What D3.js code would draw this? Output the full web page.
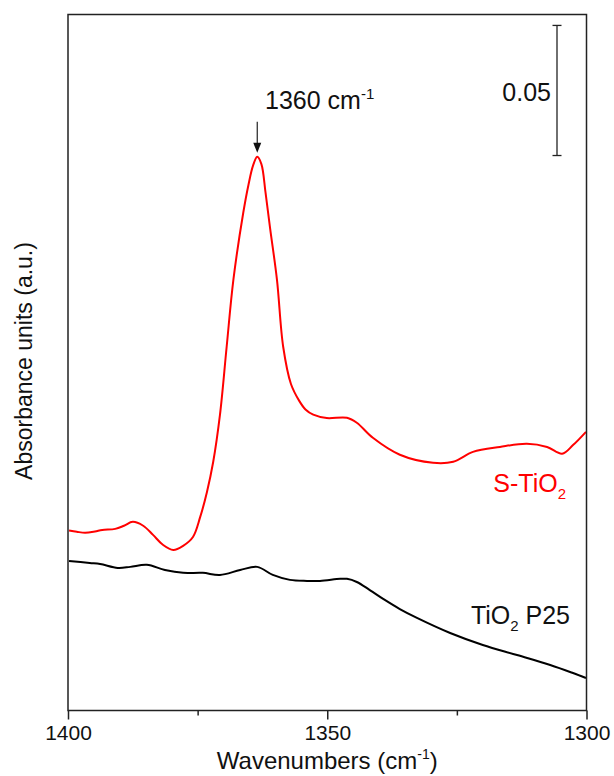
<!DOCTYPE html>
<html>
<head>
<meta charset="utf-8">
<title>IR absorbance</title>
<style>
  body { margin: 0; background: #fff; }
  text { font-family: Arial, 'Liberation Sans', Helvetica, sans-serif; fill: #111; }
  .frame { fill: none; stroke: #222; stroke-width: 1.5px; }
  .spectrum { fill: none; stroke-width: 2px; stroke-linejoin: round; }
</style>
</head>
<body>
<script src="https://cdn.jsdelivr.net/npm/d3@7/dist/d3.min.js"></script>
<script>
// wavenumber (cm-1) and absorbance
var sWn = [1399.8, 1398.3, 1396.7, 1394.8, 1393.4, 1390.9, 1389.2, 1387.5, 1385.5, 1383.6,
           1381.7, 1379.7, 1377.8, 1375.9, 1374.5, 1373.2, 1372.0, 1370.7, 1369.4, 1368.1,
           1366.2, 1365.2, 1364.3, 1363.5, 1362.7, 1361.9, 1361.0, 1359.7, 1358.5, 1357.0,
           1355.4, 1354.2, 1352.7, 1350.1, 1346.2, 1344.3, 1341.2, 1336.0, 1329.6, 1325.7,
           1321.9, 1316.7, 1311.5, 1307.6, 1304.7, 1302.6, 1300.1];
var sAbs = [0.0692, 0.0687, 0.0683, 0.0688, 0.0694, 0.0698, 0.0710, 0.0725, 0.0710, 0.0675,
            0.0637, 0.0617, 0.0633, 0.0667, 0.0744, 0.0840, 0.0955, 0.1135, 0.1398, 0.1656,
            0.1913, 0.2020, 0.2095, 0.2128, 0.2100, 0.1990, 0.1850, 0.1656, 0.1398, 0.1255,
            0.1190, 0.1157, 0.1137, 0.1124, 0.1125, 0.1106, 0.1048, 0.0983, 0.0952, 0.0956,
            0.0994, 0.1013, 0.1025, 0.1013, 0.0987, 0.1020, 0.1071];

var pWn = [1399.8, 1395.8, 1393.8, 1390.4, 1388.0, 1384.8, 1381.3, 1377.8, 1374.0, 1370.7,
           1366.8, 1363.5, 1360.5, 1357.2, 1353.9, 1351.4, 1347.5, 1346.2, 1344.3, 1341.8,
           1338.9, 1336.0, 1332.7, 1326.3, 1320.0, 1313.4, 1307.0, 1302.6, 1300.1];
var pAbs = [0.0575, 0.0567, 0.0563, 0.0548, 0.0552, 0.0560, 0.0540, 0.0529, 0.0529, 0.0521,
            0.0540, 0.0552, 0.0521, 0.0502, 0.0498, 0.0498, 0.0506, 0.0506, 0.0494, 0.0463,
            0.0425, 0.0390, 0.0356, 0.0298, 0.0252, 0.0213, 0.0175, 0.0144, 0.0125];

var majorTicks = [1400, 1350, 1300];
var minorTicks = [1375, 1325];

var peakWn = 1363.5, peakAbs = 0.2128;
var barTop = 0.2633, barSize = 0.05;

var width = 614, height = 776;
var pLeft = 68, pRight = 586.5, pTop = 14.5, pBottom = 710.5;

var x = d3.scaleLinear().domain([1400, 1300]).range([pLeft, pRight]);
var y = d3.scaleLinear().domain([0, 0.2675]).range([pBottom, pTop]);

var svg = d3.select("body").append("svg")
    .attr("width", width)
    .attr("height", height);

var line = d3.line()
    .x(function(d) { return x(d[0]); })
    .y(function(d) { return y(d[1]); })
    .curve(d3.curveCatmullRom.alpha(0.5));

// spectra
svg.append("path")
    .datum(d3.zip(pWn, pAbs))
    .attr("class", "spectrum")
    .attr("stroke", "#000")
    .attr("d", line);

svg.append("path")
    .datum(d3.zip(sWn, sAbs))
    .attr("class", "spectrum")
    .attr("stroke", "#ff0000")
    .attr("d", line);

// frame
svg.append("rect")
    .attr("class", "frame")
    .attr("x", pLeft).attr("y", pTop)
    .attr("width", pRight - pLeft).attr("height", pBottom - pTop);

// bottom axis
var xAxis = svg.append("g")
    .attr("transform", "translate(0," + pBottom + ")")
    .call(d3.axisBottom(x).tickValues(majorTicks).tickSize(9).tickPadding(6).tickFormat(d3.format("d")));
xAxis.select(".domain").remove();
xAxis.selectAll("line").attr("stroke", "#222").attr("stroke-width", 1.5);
xAxis.selectAll("text")
    .style("font-family", "Arial, 'Liberation Sans', sans-serif")
    .style("font-size", "21px")
    .attr("fill", "#111");

var xMinor = svg.append("g")
    .attr("transform", "translate(0," + pBottom + ")")
    .call(d3.axisBottom(x).tickValues(minorTicks).tickSize(5).tickFormat(""));
xMinor.select(".domain").remove();
xMinor.selectAll("line").attr("stroke", "#222").attr("stroke-width", 1.5);

// axis titles
var xt = svg.append("text")
    .attr("x", (pLeft + pRight) / 2)
    .attr("y", 769)
    .attr("text-anchor", "middle")
    .style("font-size", "24px")
    .text("Wavenumbers (cm");
xt.append("tspan").attr("baseline-shift", "10px").style("font-size", "14px").text("-1");
xt.append("tspan").text(")");

svg.append("text")
    .attr("transform", "translate(32," + 361 + ") rotate(-90)")
    .attr("text-anchor", "middle")
    .style("font-size", "23px")
    .text("Absorbance units (a.u.)");

// peak annotation
var ax = x(peakWn), tip = y(peakAbs) - 4;
svg.append("line")
    .attr("x1", ax).attr("x2", ax)
    .attr("y1", tip - 31).attr("y2", tip - 8)
    .attr("stroke", "#222").attr("stroke-width", 1.2);
svg.append("path")
    .attr("d", "M" + (ax - 4) + "," + (tip - 10) + "L" + (ax + 4) + "," + (tip - 10) + "L" + ax + "," + tip + "Z")
    .attr("fill", "#111");

var pt = svg.append("text")
    .attr("x", 265)
    .attr("y", 109)
    .style("font-size", "25px")
    .text("1360 cm");
pt.append("tspan").attr("baseline-shift", "10px").style("font-size", "15px").text("-1");

// scale bar
var bx = 557;
svg.append("line")
    .attr("x1", bx).attr("x2", bx)
    .attr("y1", y(barTop)).attr("y2", y(barTop - barSize))
    .attr("stroke", "#222").attr("stroke-width", 1.3);
[barTop, barTop - barSize].forEach(function(v) {
  svg.append("line")
      .attr("x1", bx - 4.5).attr("x2", bx + 4.5)
      .attr("y1", y(v)).attr("y2", y(v))
      .attr("stroke", "#222").attr("stroke-width", 1.3);
});
svg.append("text")
    .attr("x", 551)
    .attr("y", 101)
    .attr("text-anchor", "end")
    .style("font-size", "25px")
    .text("0.05");

// series labels
var sl = svg.append("text")
    .attr("x", 566).attr("y", 492)
    .attr("text-anchor", "end")
    .style("font-size", "25px")
    .style("fill", "#ff0000")
    .text("S-TiO");
sl.append("tspan").attr("baseline-shift", "-7px").style("font-size", "15px").text("2");

var pl = svg.append("text")
    .attr("x", 570).attr("y", 624)
    .attr("text-anchor", "end")
    .style("font-size", "25px")
    .text("TiO");
pl.append("tspan").attr("baseline-shift", "-7px").style("font-size", "15px").text("2");
pl.append("tspan").text(" P25");
</script>
</body>
</html>
